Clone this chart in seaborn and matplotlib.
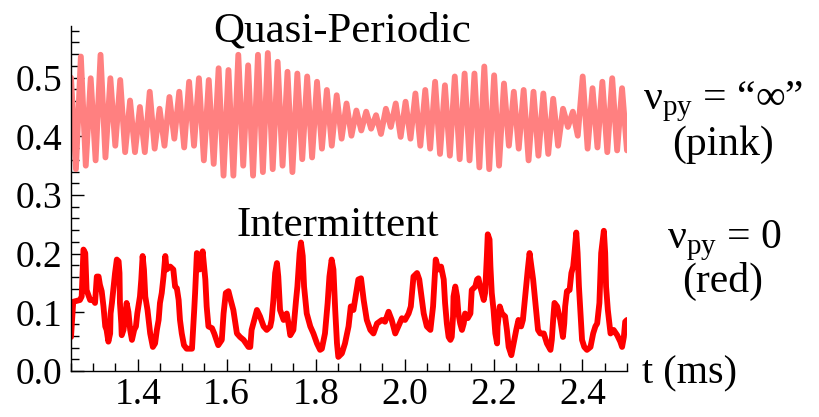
import numpy as np
import pandas as pd
import matplotlib
matplotlib.use("Agg")
import matplotlib.pyplot as plt
from matplotlib.ticker import MultipleLocator
import seaborn as sns

# pink trace (quasi-periodic): alternating peak / trough values,
# sampled evenly in time from 1.25 to 2.5 ms
pink_peaks = [0.500, 0.536, 0.499, 0.539, 0.499, 0.496, 0.461, 0.450, 0.476, 0.447,
              0.467, 0.476, 0.493, 0.499, 0.496, 0.516, 0.513, 0.539, 0.521,
              0.539, 0.542, 0.527, 0.510, 0.507, 0.502, 0.493, 0.479, 0.470, 0.456,
              0.444, 0.442, 0.436, 0.447, 0.456, 0.459, 0.473, 0.479, 0.493,
              0.487, 0.502, 0.507, 0.507, 0.519, 0.504, 0.490, 0.476, 0.479, 0.476,
              0.473, 0.464, 0.447, 0.442, 0.502, 0.482, 0.493, 0.499, 0.482]
pink_troughs = [0.344, 0.350, 0.359, 0.364, 0.384, 0.373, 0.373, 0.373, 0.379, 0.384,
                0.396, 0.381, 0.384, 0.359, 0.353, 0.333, 0.333, 0.350, 0.333,
                0.339, 0.344, 0.350, 0.339, 0.361, 0.364, 0.379, 0.384, 0.396, 0.401,
                0.410, 0.413, 0.404, 0.416, 0.399, 0.396, 0.384, 0.379, 0.370,
                0.367, 0.361, 0.359, 0.347, 0.344, 0.350, 0.384, 0.379, 0.359, 0.367,
                0.370, 0.384, 0.416, 0.401, 0.379, 0.381, 0.373, 0.376, 0.376]

# red trace (intermittent): time (ms) and value
red_t = [1.250, 1.255, 1.270, 1.274, 1.278, 1.282, 1.285, 1.293, 1.300, 1.304,
         1.308, 1.312, 1.315, 1.319, 1.323, 1.327, 1.330, 1.334, 1.338, 1.339,
         1.342, 1.345, 1.349, 1.353, 1.357, 1.359, 1.360, 1.363, 1.364, 1.368,
         1.372, 1.375, 1.379, 1.383, 1.387, 1.392, 1.396, 1.399, 1.405, 1.408,
         1.411, 1.414, 1.417, 1.422, 1.428, 1.434, 1.439, 1.443, 1.447, 1.450,
         1.454, 1.458, 1.462, 1.465, 1.473, 1.480, 1.484, 1.488, 1.492, 1.495,
         1.499, 1.504, 1.510, 1.522, 1.524, 1.527, 1.529, 1.533, 1.539, 1.546,
         1.552, 1.555, 1.559, 1.567, 1.572, 1.581, 1.589, 1.593, 1.598, 1.604,
         1.609, 1.615, 1.623, 1.630, 1.638, 1.649,
         1.653, 1.656, 1.668, 1.675, 1.683, 1.690, 1.698, 1.701, 1.705, 1.709,
         1.713, 1.716, 1.720, 1.728, 1.735, 1.739, 1.743, 1.750, 1.756, 1.759,
         1.764, 1.767, 1.771, 1.774, 1.780, 1.788, 1.795, 1.803, 1.810, 1.814,
         1.821, 1.827, 1.831, 1.836, 1.840, 1.844, 1.848, 1.851, 1.859, 1.866,
         1.874, 1.879, 1.885, 1.896, 1.902, 1.908, 1.915, 1.923, 1.930, 1.938,
         1.949, 1.956, 1.964, 1.971, 1.979, 1.986, 1.994, 2.001, 2.009, 2.014,
         2.020, 2.028, 2.033, 2.043, 2.050, 2.058, 2.064, 2.067, 2.070, 2.076,
         2.082,
         2.088, 2.091, 2.095, 2.099, 2.103, 2.106, 2.109, 2.110, 2.114, 2.118,
         2.121, 2.125, 2.129, 2.133, 2.136, 2.142, 2.148, 2.151, 2.159, 2.163,
         2.166, 2.170, 2.178, 2.181, 2.185, 2.187, 2.191, 2.193, 2.196, 2.200,
         2.204, 2.208, 2.209, 2.214, 2.219, 2.226, 2.230, 2.234, 2.240, 2.245,
         2.251, 2.256, 2.262, 2.266, 2.271, 2.277, 2.281, 2.284, 2.289, 2.294,
         2.300, 2.305, 2.313, 2.320, 2.328, 2.331, 2.334, 2.337, 2.343, 2.350,
         2.356, 2.359, 2.361, 2.365, 2.371, 2.375, 2.379, 2.382, 2.386, 2.389,
         2.392, 2.395, 2.399, 2.404, 2.410, 2.418, 2.424, 2.429, 2.433, 2.438,
         2.442, 2.448, 2.451, 2.453, 2.457, 2.463, 2.470, 2.478, 2.485, 2.489,
         2.493, 2.496, 2.500]
red_v = [0.058, 0.118, 0.121, 0.127, 0.207, 0.201, 0.138, 0.121, 0.121, 0.116,
         0.161, 0.161, 0.147, 0.136, 0.110, 0.076, 0.070, 0.050, 0.064, 0.098,
         0.116, 0.138, 0.167, 0.190, 0.187, 0.167, 0.116, 0.081, 0.061, 0.070,
         0.093, 0.116, 0.101, 0.070, 0.053, 0.070, 0.076, 0.098, 0.127, 0.156,
         0.196, 0.173, 0.127, 0.104, 0.064, 0.041, 0.047, 0.070, 0.087, 0.116,
         0.133, 0.161, 0.196, 0.173, 0.178, 0.173, 0.144, 0.141, 0.121, 0.087,
         0.064, 0.044, 0.038, 0.038, 0.064, 0.104, 0.133, 0.201, 0.173, 0.204,
         0.156, 0.110, 0.076, 0.073, 0.064, 0.044, 0.053, 0.098, 0.133, 0.136,
         0.121, 0.104, 0.064, 0.058, 0.053, 0.041,
         0.041, 0.070, 0.104, 0.093, 0.076, 0.070, 0.076, 0.087, 0.121, 0.167,
         0.184, 0.161, 0.104, 0.087, 0.098, 0.081, 0.061, 0.070, 0.121, 0.144,
         0.201, 0.219, 0.196, 0.144, 0.098, 0.076, 0.064, 0.047, 0.036, 0.038,
         0.064, 0.116, 0.161, 0.190, 0.173, 0.104, 0.047, 0.024, 0.030, 0.047,
         0.076, 0.110, 0.104, 0.156, 0.158, 0.121, 0.087, 0.070, 0.064, 0.081,
         0.087, 0.084, 0.101, 0.087, 0.064, 0.076, 0.090, 0.087, 0.098, 0.110,
         0.161, 0.167, 0.156, 0.098, 0.076, 0.070, 0.110, 0.150, 0.190, 0.173,
         0.178,
         0.156, 0.116, 0.081, 0.058, 0.053, 0.058, 0.093, 0.127, 0.144, 0.127,
         0.098, 0.081, 0.070, 0.081, 0.098, 0.090, 0.098, 0.138, 0.144, 0.156,
         0.158, 0.144, 0.121, 0.133, 0.196, 0.233, 0.224, 0.178, 0.133, 0.104,
         0.064, 0.047, 0.076, 0.110, 0.098, 0.093, 0.070, 0.041, 0.027, 0.047,
         0.070, 0.087, 0.076, 0.087, 0.127, 0.173, 0.201, 0.184, 0.156, 0.116,
         0.070, 0.064, 0.064, 0.047, 0.036, 0.053, 0.087, 0.116, 0.110, 0.087,
         0.058, 0.081, 0.110, 0.136, 0.138, 0.167, 0.178, 0.201, 0.236, 0.201,
         0.144, 0.104, 0.053, 0.041, 0.036, 0.041, 0.064, 0.076, 0.081, 0.116,
         0.201, 0.239, 0.201, 0.144, 0.104, 0.064, 0.070, 0.061, 0.050, 0.041,
         0.058, 0.084, 0.087]

sns.set_style("ticks")
plt.rcParams["font.family"] = ["Liberation Serif", "DejaVu Serif"]
plt.rcParams["mathtext.fontset"] = "custom"
plt.rcParams["mathtext.rm"] = "Liberation Serif"
plt.rcParams["text.color"] = "black"

pink_v = np.ravel(np.column_stack([pink_peaks, pink_troughs]))
pink_t = np.linspace(1.25, 2.5, len(pink_v))

df = pd.concat([
    pd.DataFrame({"t": pink_t, "v": pink_v, "series": "pink"}),
    pd.DataFrame({"t": red_t, "v": red_v, "series": "red"}),
], ignore_index=True)

fig = plt.figure(figsize=(8.2, 4.17), dpi=100)
ax = fig.add_axes([0.0866, 0.1103, 0.678, 0.8273])
sns.lineplot(data=df, x="t", y="v", hue="series",
             palette={"pink": "#ff8080", "red": "#ff0000"},
             estimator=None, sort=False, legend=False, lw=4.2,
             solid_joinstyle="round", solid_capstyle="round", ax=ax)

ax.set_xlim(1.25, 2.5)
ax.set_ylim(0, 0.588)
ax.xaxis.set_major_locator(MultipleLocator(0.2))
ax.xaxis.set_minor_locator(MultipleLocator(0.05))
ax.yaxis.set_major_locator(MultipleLocator(0.1))
ax.yaxis.set_minor_locator(MultipleLocator(0.02))
ax.xaxis.set_major_formatter(matplotlib.ticker.FormatStrFormatter("%.1f"))
ax.yaxis.set_major_formatter(matplotlib.ticker.FormatStrFormatter("%.1f"))
ax.set_xlabel("")
ax.set_ylabel("")
ax.tick_params(which="major", direction="in", length=9, width=1, labelsize=27, colors="black")
ax.tick_params(which="minor", direction="in", length=5.5, width=1, colors="black")
ax.tick_params(axis="x", pad=5)
ax.tick_params(axis="y", pad=6)
sns.despine(ax=ax)
for s in ("left", "bottom"):
    ax.spines[s].set_linewidth(1)
    ax.spines[s].set_color("black")

ax.text(0.487, 0.954, "Quasi-Periodic", transform=ax.transAxes,
        ha="center", va="baseline", fontsize=31)
ax.text(0.48, 0.391, "Intermittent", transform=ax.transAxes,
        ha="center", va="baseline", fontsize=31)

fig.text(723 / 820, 1 - 109 / 417, "ν$_{\\rm py}$ = “∞”", ha="center", va="baseline", fontsize=30)
fig.text(723 / 820, 1 - 155 / 417, "(pink)", ha="center", va="baseline", fontsize=30)
fig.text(725 / 820, 1 - 248 / 417, "ν$_{\\rm py}$ = 0", ha="center", va="baseline", fontsize=30)
fig.text(723 / 820, 1 - 292 / 417, "(red)", ha="center", va="baseline", fontsize=30)
fig.text(690 / 820, 1 - 383 / 417, "t (ms)", ha="center", va="baseline", fontsize=29)

fig.savefig("out.png", dpi=100)
